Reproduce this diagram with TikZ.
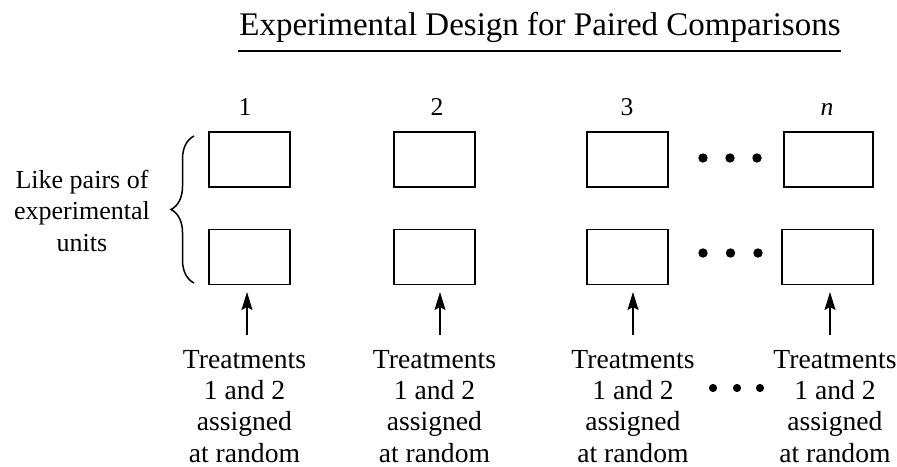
\documentclass[tikz,border=0pt]{standalone}
\usepackage{fontspec}
\setmainfont{Liberation Serif}
\usetikzlibrary{arrows.meta,decorations.pathreplacing}
\begin{document}
\begin{tikzpicture}[x=1pt,y=-1pt,
  unitbox/.style={draw, line width=1.6pt, minimum width=81pt, minimum height=55pt, inner sep=0pt},
  colnum/.style={anchor=base, inner sep=0pt, font=\fontsize{25.6}{31}\selectfont},
  treat/.style={anchor=north, inner sep=0pt, align=center, font=\fontsize{27.6}{31.3}\selectfont},
  bigdot/.style={circle, fill=black, inner sep=0pt, minimum size=9.4pt},
  smalldot/.style={circle, fill=black, inner sep=0pt, minimum size=8.2pt},
  uparrow/.style={line width=1.3pt, -{Stealth[length=18pt,width=11pt,inset=3pt]}}
]
\fill[white] (0,0) rectangle (897,466);
\useasboundingbox (0,0) rectangle (897,466);

% title
\node[anchor=base, inner sep=0pt, font=\fontsize{33}{40}\selectfont] (title) at (540,35) {Experimental Design for Paired Comparisons};
\draw[line width=1.8pt] (238,51) -- (841,51);

% column numbers
\node[colnum] (c1) at (245,115) {1};
\node[colnum] (c2) at (437,115) {2};
\node[colnum] (c3) at (627,115) {3};
\node[colnum] (cn) at (827,115) {\textit{n}};

% boxes
\node[unitbox] (t1) at (249.5,159.5) {};
\node[unitbox] (b1) at (249.5,257) {};
\node[unitbox] (t2) at (434.5,159.5) {};
\node[unitbox] (b2) at (434.5,257) {};
\node[unitbox] (t3) at (627.5,159.5) {};
\node[unitbox] (b3) at (627.5,257) {};
\node[unitbox, minimum width=89pt] (tn) at (828.5,159.5) {};
\node[unitbox, minimum width=91pt] (bn) at (827.5,257) {};

% dots between boxes
\node[bigdot] (td1) at (703,158) {};
\node[bigdot] (td2) at (730,158) {};
\node[bigdot] (td3) at (757,158) {};
\node[bigdot] (bd1) at (703,253) {};
\node[bigdot] (bd2) at (730.5,253) {};
\node[bigdot] (bd3) at (758,253) {};

% brace and left label
\draw[line width=1.5pt, decorate, decoration={brace, amplitude=23pt}] (194,283) -- (194,136);
\node[anchor=north, inner sep=0pt, align=center, font=\fontsize{26}{31.5}\selectfont] (like) at (82,169.5) {Like pairs of\\experimental\\units};

% treatment texts
\node[treat] (r1) at (244.5,350) {Treatments\\1 and 2\\assigned\\at random};
\node[treat] (r2) at (434.5,350) {Treatments\\1 and 2\\assigned\\at random};
\node[treat] (r3) at (633,350) {Treatments\\1 and 2\\assigned\\at random};
\node[treat] (rn) at (835,350) {Treatments\\1 and 2\\assigned\\at random};

\node[smalldot] (sd1) at (713,388) {};
\node[smalldot] (sd2) at (737,388) {};
\node[smalldot] (sd3) at (760,388) {};

% arrows
\coordinate (a1s) at (247,335); \coordinate (a1e) at (247,292);
\coordinate (a2s) at (440,335); \coordinate (a2e) at (440,292);
\coordinate (a3s) at (633,335); \coordinate (a3e) at (633,292);
\coordinate (ans) at (830,335); \coordinate (ane) at (830,292);
\draw[uparrow] (a1s) -- (a1e);
\draw[uparrow] (a2s) -- (a2e);
\draw[uparrow] (a3s) -- (a3e);
\draw[uparrow] (ans) -- (ane);
\end{tikzpicture}
\end{document}
